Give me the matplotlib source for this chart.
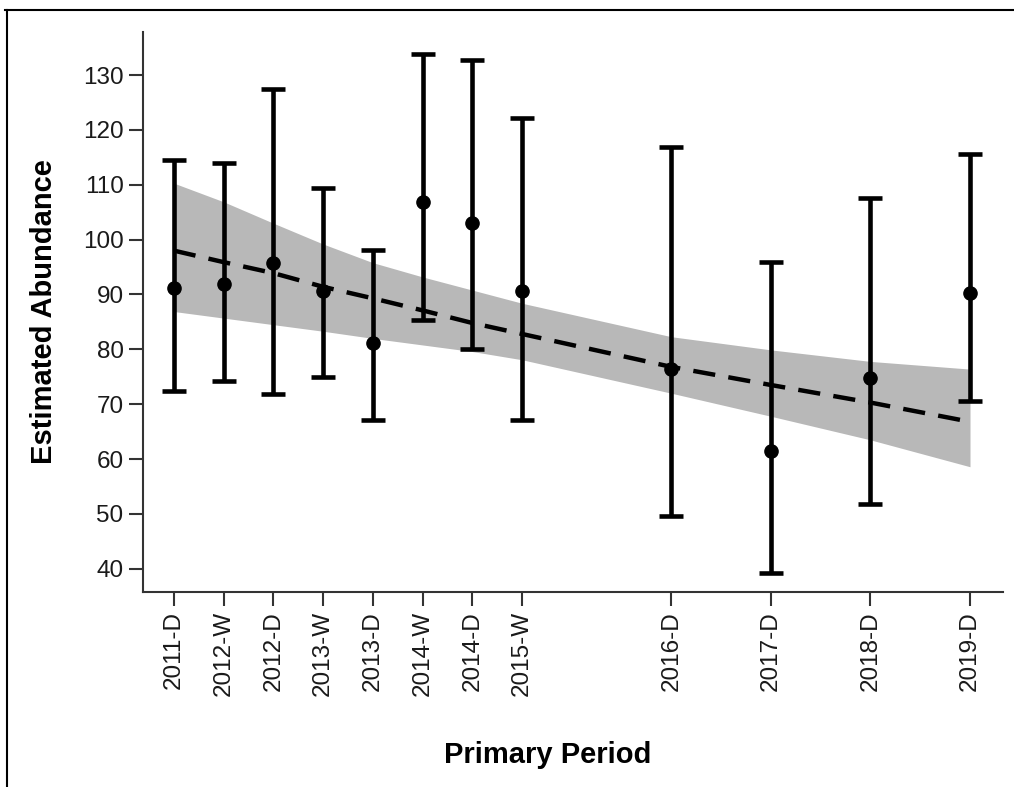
import matplotlib
matplotlib.use("Agg")
import matplotlib.pyplot as plt
from matplotlib.lines import Line2D

# primary periods (numeric position = year, wet season half a year earlier)
periods = ["2011-D", "2012-W", "2012-D", "2013-W", "2013-D", "2014-W",
           "2014-D", "2015-W", "2016-D", "2017-D", "2018-D", "2019-D"]
period_x = [2011.0, 2011.5, 2012.0, 2012.5, 2013.0, 2013.5,
            2014.0, 2014.5, 2016.0, 2017.0, 2018.0, 2019.0]

# estimated abundance with 95% limits
abundance = [91.1, 92.0, 95.7, 90.7, 81.2, 106.9, 103.0, 90.7, 76.4, 61.4, 74.7, 90.2]
lower = [72.4, 74.2, 71.8, 74.9, 67.2, 85.4, 80.1, 67.1, 49.7, 39.2, 51.9, 70.5]
upper = [114.6, 114.0, 127.5, 109.5, 98.2, 133.8, 132.7, 122.2, 116.8, 95.9, 107.5, 115.6]

trend = [98.0, 95.9, 93.9, 91.4, 89.3, 87.1, 84.8, 82.8, 76.8, 73.5, 70.3, 66.8]
band_lo = [86.9, 85.7, 84.5, 83.3, 82.0, 80.8, 79.6, 78.1, 72.0, 67.8, 63.5, 58.6]
band_hi = [110.3, 106.9, 103.0, 99.2, 95.8, 93.2, 90.8, 88.4, 82.3, 79.9, 77.8, 76.4]

plt.rcParams["font.family"] = ["Liberation Sans", "DejaVu Sans"]

fig = plt.figure(figsize=(10.14, 7.87), dpi=100)
ax = fig.add_axes([0.141, 0.248, 0.848, 0.711])

ax.fill_between(period_x, band_lo, band_hi, color="#b8b8b8", lw=0, zorder=1)
trend_line, = ax.plot(period_x, trend, color="black", lw=3.2, zorder=2)
trend_line.set_dashes((5, 3))

err_lo = [a - l for a, l in zip(abundance, lower)]
err_hi = [u - a for a, u in zip(abundance, upper)]
ax.errorbar(period_x, abundance, yerr=[err_lo, err_hi], fmt="o", color="black",
            ms=9.5, elinewidth=3.3, capsize=8.3, capthick=3.3, zorder=3)

ax.set_xlim(2010.69, 2019.33)
ax.set_ylim(35.8, 137.8)
ax.set_yticks(range(40, 131, 10))
ax.set_xticks(period_x)
ax.set_xticklabels(periods, rotation=90)

for side in ["top", "right"]:
    ax.spines[side].set_visible(False)
for side in ["left", "bottom"]:
    ax.spines[side].set_linewidth(1.5)
    ax.spines[side].set_color("#333333")
ax.tick_params(axis="both", length=10, width=1.5, color="#333333",
               labelsize=17.5, labelcolor="#1a1a1a", pad=4)

ax.set_ylabel("Estimated Abundance", fontsize=21, fontweight="bold")
ax.yaxis.set_label_coords(-0.099, 0.5)
ax.set_xlabel("Primary Period", fontsize=21, fontweight="bold")
ax.xaxis.set_label_coords(0.471, -0.266)

# thin frame around the figure (top and left edges only)
fig.add_artist(Line2D([0.005, 1.0], [0.987, 0.987], transform=fig.transFigure,
                      color="black", lw=1.5))
fig.add_artist(Line2D([0.007, 0.007], [0.0, 0.987], transform=fig.transFigure,
                      color="black", lw=1.5))

fig.savefig("out.png", dpi=100)
